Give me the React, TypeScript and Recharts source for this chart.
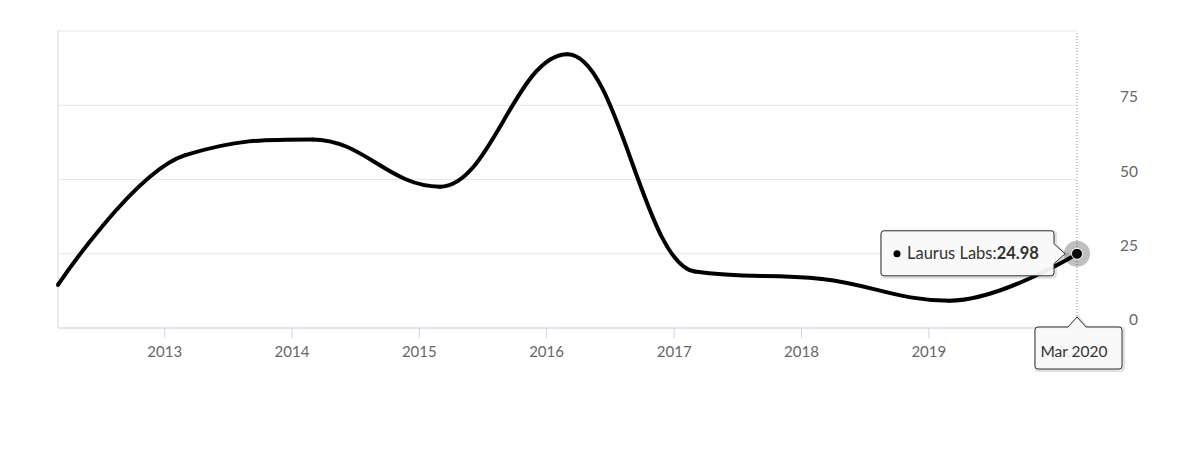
import React from 'react';
import { LineChart, Line, XAxis, YAxis, CartesianGrid, ReferenceLine, ReferenceDot } from 'recharts';

// ---- data ----
const periods: string[] = ['2012-03', '2013-03', '2014-03', '2015-03', '2016-03', '2017-03', '2018-03', '2019-03', '2020-03'];
const values: number[] = [14.5, 58.2, 63.5, 47.6, 92.2, 19.0, 16.5, 9.2, 24.98];
const seriesName = 'Laurus Labs';
const tickYears: number[] = [2013, 2014, 2015, 2016, 2017, 2018, 2019, 2020];
const yTicks: number[] = [0, 25, 50, 75, 100];
const hoverLabel = 'Mar 2020';

const toTime = (p: string) => {
  const [y, m] = p.split('-').map(Number);
  return Date.UTC(y, m - 1, 1);
};
const data = periods.map((p, i) => ({ t: toTime(p), v: values[i] }));
const xTicks = tickYears.map((y) => Date.UTC(y, 0, 1));
const tMin = data[0].t;
const tMax = data[data.length - 1].t;
const last = data[data.length - 1];

const FONT = 'Lato, "Open Sans", sans-serif';

// Highcharts-like spline curve (smoothing 1.5, with overshoot clamp)
function hcSpline(context: any) {
  let xs: number[] = [];
  let ys: number[] = [];
  return {
    areaStart() {},
    areaEnd() {},
    lineStart() {
      xs = [];
      ys = [];
    },
    point(x: number, y: number) {
      xs.push(+x);
      ys.push(+y);
    },
    lineEnd() {
      const n = xs.length;
      if (!n) return;
      const s = 1.5;
      const d = s + 1;
      const lc: number[][] = [];
      const rc: number[][] = [];
      for (let i = 0; i < n; i++) {
        const px = xs[i];
        const py = ys[i];
        if (i > 0 && i < n - 1) {
          const lx0 = xs[i - 1], ly0 = ys[i - 1], nx = xs[i + 1], ny = ys[i + 1];
          const lcx = (s * px + lx0) / d;
          let lcy = (s * py + ly0) / d;
          const rcx = (s * px + nx) / d;
          let rcy = (s * py + ny) / d;
          let corr = 0;
          if (rcx !== lcx) corr = ((rcy - lcy) * (rcx - px)) / (rcx - lcx) + py - rcy;
          lcy += corr;
          rcy += corr;
          if (lcy > ly0 && lcy > py) {
            lcy = Math.max(ly0, py);
            rcy = 2 * py - lcy;
          } else if (lcy < ly0 && lcy < py) {
            lcy = Math.min(ly0, py);
            rcy = 2 * py - lcy;
          }
          if (rcy > ny && rcy > py) {
            rcy = Math.max(ny, py);
            lcy = 2 * py - rcy;
          } else if (rcy < ny && rcy < py) {
            rcy = Math.min(ny, py);
            lcy = 2 * py - rcy;
          }
          lc[i] = [lcx, lcy];
          rc[i] = [rcx, rcy];
        } else {
          lc[i] = [px, py];
          rc[i] = [px, py];
        }
      }
      context.moveTo(xs[0], ys[0]);
      for (let i = 1; i < n; i++) {
        context.bezierCurveTo(rc[i - 1][0], rc[i - 1][1], lc[i][0], lc[i][1], xs[i], ys[i]);
      }
    },
  };
}

const YTick = (props: any) => {
  const { x, y, payload } = props;
  if (payload.value === 100) return null;
  return (
    <text x={x + 61} y={y - 3} textAnchor="end" fill="#666" fontSize={15.5} fontFamily={FONT}>
      {payload.value}
    </text>
  );
};

const HoverPoint = (props: any) => {
  const { cx, cy } = props;
  const right = cx - 23;
  const left = cx - 196;
  const top = cy - 23;
  const bottom = cy + 22;
  const r = 3;
  const path = `M ${left + r} ${top} L ${right - r} ${top} Q ${right} ${top} ${right} ${top + r} L ${right} ${cy - 10} L ${cx - 12} ${cy} L ${right} ${cy + 10} L ${right} ${bottom - r} Q ${right} ${bottom} ${right - r} ${bottom} L ${left + r} ${bottom} Q ${left} ${bottom} ${left} ${bottom - r} L ${left} ${top + r} Q ${left} ${top} ${left + r} ${top} Z`;
  return (
    <g>
      <circle cx={cx} cy={cy} r={13} fill="rgba(0,0,0,0.25)" />
      <circle cx={cx} cy={cy} r={5.5} fill="#000" stroke="#fff" strokeWidth={1} />
      <path d={path} transform="translate(1,1)" fill="none" stroke="rgba(0,0,0,0.12)" strokeWidth={4} />
      <path d={path} fill="rgba(249,249,249,0.95)" stroke="#333" strokeWidth={1} />
      <circle cx={left + 16} cy={cy} r={3.5} fill="#000" />
      <text x={left + 26} y={cy + 5.5} fill="#333" fontSize={16.5} fontFamily={FONT}>
        {seriesName}:
        <tspan fontWeight="bold">{last.v.toFixed(2)}</tspan>
      </text>
    </g>
  );
};

const XCrossLabel = (props: any) => {
  const { cx, cy } = props;
  const left = cx - 42;
  const right = cx + 45;
  const top = cy - 1;
  const bottom = cy + 41;
  const r = 3;
  const path = `M ${left + r} ${top} L ${cx - 9} ${top} L ${cx} ${top - 10} L ${cx + 9} ${top} L ${right - r} ${top} Q ${right} ${top} ${right} ${top + r} L ${right} ${bottom - r} Q ${right} ${bottom} ${right - r} ${bottom} L ${left + r} ${bottom} Q ${left} ${bottom} ${left} ${bottom - r} L ${left} ${top + r} Q ${left} ${top} ${left + r} ${top} Z`;
  return (
    <g>
      <path d={path} transform="translate(1,1)" fill="none" stroke="rgba(0,0,0,0.12)" strokeWidth={4} />
      <path d={path} fill="rgba(249,249,249,0.93)" stroke="#333" strokeWidth={1} />
      <text x={cx - 3} y={cy + 29} textAnchor="middle" fill="#333" fontSize={15.5} fontFamily={FONT}>
        {hoverLabel}
      </text>
    </g>
  );
};

const refZ: any = { zIndex: 2500 };

export default function App() {
  return (
    <div style={{ position: 'absolute', left: 0, top: 0, width: 1183, height: 457, background: '#fff' }}>
      <LineChart
        width={1183}
        height={457}
        data={data}
        margin={{ top: 31, right: 45, bottom: 99, left: 58 }}
        style={{ fontFamily: FONT }}
      >
        <CartesianGrid horizontal vertical={false} stroke="#e6e6e6" strokeDasharray="" />
        <XAxis
          dataKey="t"
          type="number"
          domain={[tMin, tMax]}
          ticks={xTicks}
          tickFormatter={(t: number) => String(new Date(t).getUTCFullYear())}
          height={30}
          tickSize={10}
          tickMargin={8}
          axisLine={{ stroke: '#ccd6eb' }}
          tickLine={{ stroke: '#ccd6eb' }}
          tick={{ fill: '#666', fontSize: 15, fontFamily: FONT }}
          interval={0}
        />
        <YAxis
          orientation="right"
          domain={[0, 100]}
          ticks={yTicks}
          width={61}
          axisLine={false}
          tickLine={false}
          tickSize={0}
          tickMargin={0}
          tick={<YTick />}
          interval={0}
        />
        <ReferenceLine x={tMin} stroke="#ccd6eb" strokeWidth={1} />
        <ReferenceLine x={tMax} stroke="#888" strokeWidth={1} strokeDasharray="1 2" />
        <Line
          dataKey="v"
          type={hcSpline as any}
          stroke="#000"
          strokeWidth={4}
          dot={{ r: 2, fill: '#000', stroke: '#000', strokeWidth: 0 }}
          activeDot={false}
          isAnimationActive={false}
        />
        <ReferenceDot x={last.t} y={0} shape={<XCrossLabel />} ifOverflow="visible" {...refZ} />
        <ReferenceDot x={last.t} y={last.v} shape={<HoverPoint />} ifOverflow="visible" {...refZ} />
      </LineChart>
    </div>
  );
}
